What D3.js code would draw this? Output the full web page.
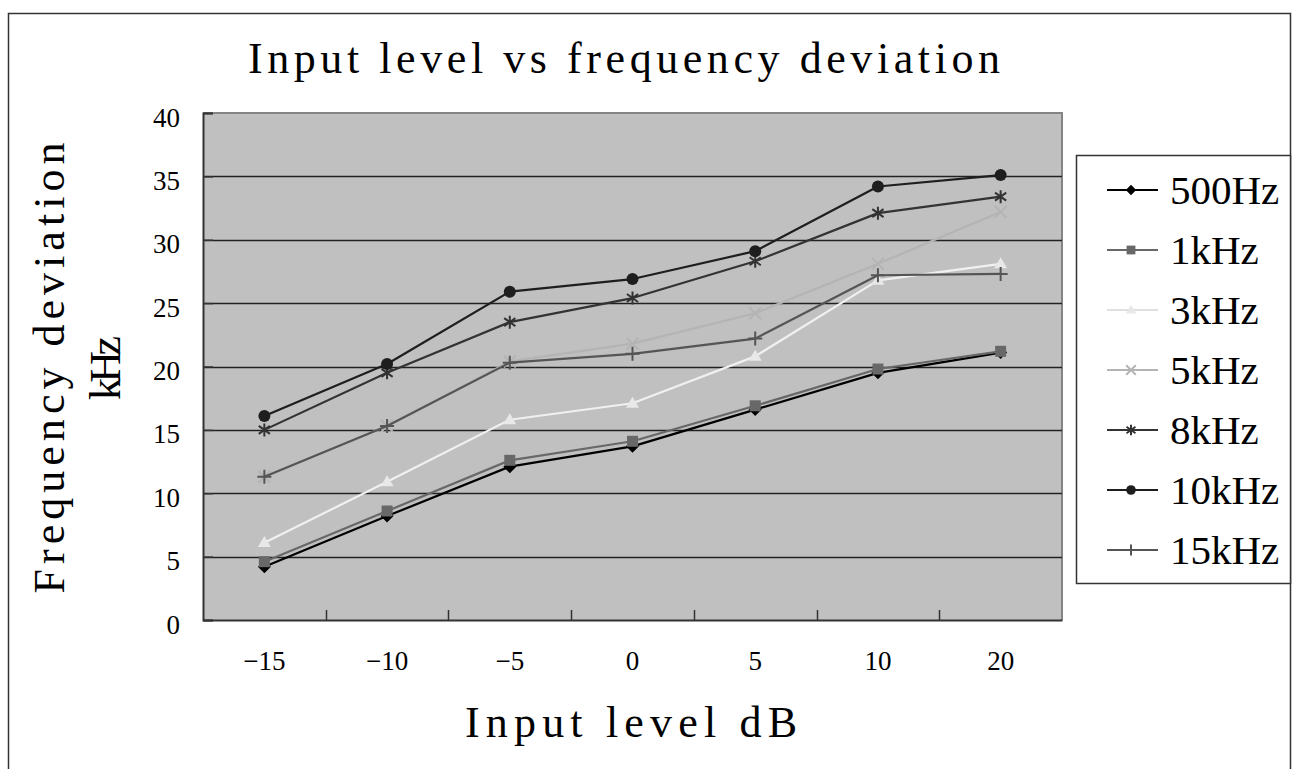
<!DOCTYPE html>
<html>
<head>
<meta charset="utf-8">
<script src="https://cdn.jsdelivr.net/npm/d3@7"></script>
<style>
  html, body { margin: 0; padding: 0; background: #fff; }
  svg { display: block; }
</style>
</head>
<body>
<svg id="chart" width="1292" height="769"></svg>
<script>
// ---------- data ----------
const categories = ["-15", "-10", "-5", "0", "5", "10", "20"];
const categoryLabels = ["\u221215", "\u221210", "\u22125", "0", "5", "10", "20"];
const seriesNames = ["500Hz", "1kHz", "3kHz", "5kHz", "8kHz", "10kHz", "15kHz"];
const s500Hz = [4.2, 8.2, 12.1, 13.7, 16.6, 19.5, 21.1];
const s1kHz  = [4.6, 8.6, 12.6, 14.1, 16.9, 19.8, 21.2];
const s3kHz  = [6.1, 10.9, 15.8, 17.1, 20.8, 26.8, 28.1];
const s5kHz  = [11.3, 15.3, 20.4, 21.8, 24.2, 28.1, 32.2];
const s8kHz  = [15.0, 19.5, 23.5, 25.4, 28.3, 32.1, 33.4];
const s10kHz = [16.1, 20.2, 25.9, 26.9, 29.1, 34.2, 35.1];
const s15kHz = [11.3, 15.3, 20.3, 21.0, 22.2, 27.2, 27.3];
const yTicks = [0, 5, 10, 15, 20, 25, 30, 35, 40];
const titleText = "Input level vs frequency deviation";
const xTitle = "Input level dB";
const yTitleLines = ["Frequency deviation", "kHz"];

const seriesValues = [s500Hz, s1kHz, s3kHz, s5kHz, s8kHz, s10kHz, s15kHz];

const FONT = '"Liberation Serif", "Tinos", "Times New Roman"';

// ---------- styles ----------
const styles = [
  { line: "#000000", fill: "#000000", stroke: "none",    marker: "diamond" },
  { line: "#686868", fill: "#686868", stroke: "none",    marker: "square" },
  { line: "#f0f0f0", fill: "#e8e8e8", stroke: "none",    marker: "triangle" },
  { line: "#b4b4b4", fill: "none",    stroke: "#b4b4b4", marker: "x" },
  { line: "#333333", fill: "none",    stroke: "#333333", marker: "asterisk" },
  { line: "#1e1e1e", fill: "#1e1e1e", stroke: "none",    marker: "circle" },
  { line: "#555555", fill: "none",    stroke: "#555555", marker: "plus" }
];

function markerPath(type, k) {
  const p = d3.path();
  if (type === "diamond") { const r = 6.5 * k; p.moveTo(0, -r); p.lineTo(r, 0); p.lineTo(0, r); p.lineTo(-r, 0); p.closePath(); }
  else if (type === "square") { const r = 5.5 * k; p.rect(-r, -r, 2 * r, 2 * r); }
  else if (type === "triangle") { const w = 6.5 * k, h = 11 * k; p.moveTo(0, -h * 0.6); p.lineTo(w, h * 0.4); p.lineTo(-w, h * 0.4); p.closePath(); }
  else if (type === "circle") { const r = 6 * k; p.arc(0, 0, r, 0, 2 * Math.PI); }
  else if (type === "x") { const r = 6 * k; p.moveTo(-r, -r); p.lineTo(r, r); p.moveTo(r, -r); p.lineTo(-r, r); }
  else if (type === "asterisk") { const r = 6.5 * k, a = 5.6 * k, b = 4 * k; p.moveTo(0, -r); p.lineTo(0, r); p.moveTo(-a, -b); p.lineTo(a, b); p.moveTo(a, -b); p.lineTo(-a, b); }
  else if (type === "plus") { const r = 7 * k; p.moveTo(0, -r); p.lineTo(0, r); p.moveTo(-r, 0); p.lineTo(r, 0); }
  return p.toString();
}

// ---------- layout ----------
const svg = d3.select("#chart");
const plot = { left: 203, top: 113, right: 1062, bottom: 620 };

const x = d3.scaleBand().domain(categories).range([plot.left, plot.right]).padding(0);
const y = d3.scaleLinear().domain([0, 40]).range([plot.bottom, plot.top]);
const xc = c => x(c) + x.bandwidth() / 2;

// outer border
svg.append("rect").attr("x", 8.5).attr("y", 13.5).attr("width", 1282).attr("height", 800)
  .attr("fill", "none").attr("stroke", "#333").attr("stroke-width", 1.5);

// plot background
svg.append("rect").attr("x", plot.left).attr("y", plot.top)
  .attr("width", plot.right - plot.left).attr("height", plot.bottom - plot.top)
  .attr("fill", "#c0c0c0");
svg.append("path")
  .attr("d", `M${plot.left},${plot.top}H${plot.right}V${plot.bottom}`)
  .attr("fill", "none").attr("stroke", "#858585").attr("stroke-width", 2);

// gridlines
svg.append("g").selectAll("line").data(yTicks.filter(t => t > 0 && t < 40)).join("line")
  .attr("x1", plot.left).attr("x2", plot.right)
  .attr("y1", d => Math.round(y(d)) + 0.5).attr("y2", d => Math.round(y(d)) + 0.5)
  .attr("stroke", "#222").attr("stroke-width", 1.3);

// y axis
const yAxis = d3.axisLeft(y).tickValues(yTicks).tickSize(-10).tickPadding(0).tickFormat(d3.format("d"));
const gy = svg.append("g").attr("transform", `translate(${plot.left},0)`).call(yAxis);
gy.attr("font-family", null).attr("font-size", null);
gy.select(".domain").attr("stroke", "#333").attr("stroke-width", 2);
gy.selectAll(".tick line").attr("stroke", "#333").attr("stroke-width", 1.5);
gy.selectAll(".tick text").attr("x", -23).attr("dy", 13)
  .style("font-family", FONT).style("font-size", "27px").attr("fill", "#000").attr("text-anchor", "end");

// x axis (ticks between categories)
const xAxis = d3.axisBottom(x).tickSize(0).tickPadding(0).tickFormat((d, i) => categoryLabels[i]);
const gx = svg.append("g").attr("transform", `translate(0,${plot.bottom})`).call(xAxis);
gx.attr("font-family", null).attr("font-size", null);
gx.select(".domain").attr("stroke", "#333").attr("stroke-width", 2);
gx.selectAll(".tick text").attr("y", 50).attr("dy", 0)
  .style("font-family", FONT).style("font-size", "27px").attr("fill", "#000");
svg.append("g").selectAll("line").data(categories.slice(1)).join("line")
  .attr("x1", d => Math.round(x(d)) + 0.5).attr("x2", d => Math.round(x(d)) + 0.5)
  .attr("y1", plot.bottom).attr("y2", plot.bottom - 10)
  .attr("stroke", "#333").attr("stroke-width", 1.5);

// series
const line = d3.line().x((d, i) => xc(categories[i])).y(d => y(d));
seriesValues.forEach((vals, si) => {
  const st = styles[si];
  const g = svg.append("g");
  g.append("path").attr("d", line(vals)).attr("fill", "none")
    .attr("stroke", st.line).attr("stroke-width", 2.2).attr("stroke-linejoin", "round");
  g.selectAll("path.m").data(vals).join("path").attr("class", "m")
    .attr("transform", (d, i) => `translate(${xc(categories[i])},${y(d)})`)
    .attr("d", markerPath(st.marker, 1))
    .attr("fill", st.fill).attr("stroke", st.stroke).attr("stroke-width", 2);
});

function label(sel) {
  return sel.style("font-family", FONT).attr("fill", "#000");
}

// title
label(svg.append("text")).attr("x", 624).attr("y", 73).attr("text-anchor", "middle")
  .style("font-size", "44px").attr("textLength", 752).attr("lengthAdjust", "spacing")
  .text(titleText);

// x title
label(svg.append("text")).attr("x", 631).attr("y", 737).attr("text-anchor", "middle")
  .style("font-size", "44px").attr("textLength", 332).attr("lengthAdjust", "spacing")
  .text(xTitle);

// y title (two lines rotated)
const yt = svg.append("g").attr("transform", "translate(0,368) rotate(-90)");
label(yt.append("text")).attr("x", 0).attr("y", 64).attr("text-anchor", "middle")
  .style("font-size", "44px").attr("textLength", 451).attr("lengthAdjust", "spacing")
  .text(yTitleLines[0]);
label(yt.append("text")).attr("x", 0).attr("y", 120).attr("text-anchor", "middle")
  .style("font-size", "44px").attr("textLength", 64).attr("lengthAdjust", "spacing")
  .text(yTitleLines[1]);

// legend
const lg = svg.append("g");
lg.append("rect").attr("x", 1076.5).attr("y", 155.5).attr("width", 214).attr("height", 428)
  .attr("fill", "#fff").attr("stroke", "#333").attr("stroke-width", 1.5);
const legendY = d3.scaleBand().domain(seriesNames).range([160, 580]);
seriesNames.forEach((name, si) => {
  const st = styles[si];
  const cy = legendY(name) + legendY.bandwidth() / 2;
  lg.append("line").attr("x1", 1107).attr("x2", 1158).attr("y1", cy).attr("y2", cy)
    .attr("stroke", st.line === "#f0f0f0" ? "#e0e0e0" : st.line).attr("stroke-width", 2);
  lg.append("path").attr("transform", `translate(1131,${cy})`).attr("d", markerPath(st.marker, 0.8))
    .attr("fill", st.fill).attr("stroke", st.stroke).attr("stroke-width", 2);
  label(lg.append("text")).attr("x", 1170).attr("y", cy + 14).style("font-size", "41px").text(name);
});
</script>
</body>
</html>
